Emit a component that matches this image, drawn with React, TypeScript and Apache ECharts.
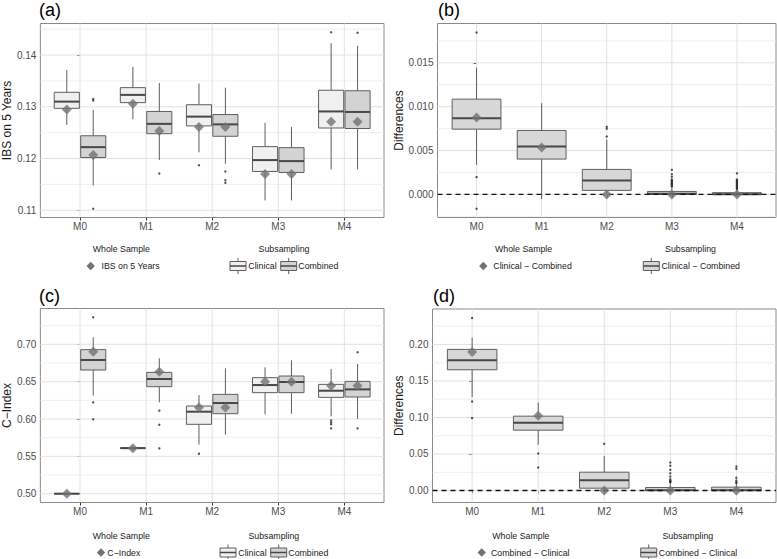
import React, { useEffect, useRef } from 'react';
import * as echarts from 'echarts';

const FONT = '"Liberation Sans", Arial, Helvetica, sans-serif';

const categories = ['M0', 'M1', 'M2', 'M3', 'M4'];

// Box statistics: [lower whisker, Q1, median, Q3, upper whisker]
// (a) IBS on 5 Years
const ibsClinical = [
  [0.1265, 0.1297, 0.131, 0.1328, 0.1371],
  [0.1276, 0.1308, 0.1323, 0.1337, 0.1377],
  [0.1212, 0.1263, 0.1281, 0.1304, 0.1345],
  [0.1119, 0.1175, 0.1197, 0.1223, 0.1269],
  [0.1179, 0.1259, 0.1291, 0.1332, 0.1423],
];
const ibsCombined = [
  [0.1148, 0.1202, 0.1222, 0.1244, 0.1294],
  [0.1197, 0.1248, 0.1267, 0.1291, 0.1346],
  [0.119, 0.1243, 0.1266, 0.1285, 0.1337],
  [0.1119, 0.1173, 0.1195, 0.1221, 0.1261],
  [0.1179, 0.1258, 0.129, 0.1331, 0.1418],
];
// outliers: [category index, value]
const ibsClinicalOutliers = [[2, 0.1187], [4, 0.1444]];
const ibsCombinedOutliers = [
  [0, 0.1315], [0, 0.1312], [0, 0.1103], [1, 0.1171],
  [2, 0.1175], [2, 0.1158], [2, 0.1153], [4, 0.1443],
];
const ibsWholeClinical = [0.1295, 0.1306, 0.1261, 0.117, 0.1271];
const ibsWholeCombined = [0.1207, 0.1253, 0.1261, 0.117, 0.1271];
const ibsTicks = [0.11, 0.12, 0.13, 0.14];

// (b) Differences Clinical − Combined (IBS)
const ibsDiff = [
  [0.00338, 0.00744, 0.00869, 0.01086, 0.01446],
  [-0.00053, 0.00403, 0.00547, 0.00729, 0.0104],
  [0, 0.00046, 0.00159, 0.00285, 0.00626],
  [0, 0, 0.00008, 0.00034, 0.0008],
  [0, 0, 0.00003, 0.0002, 0.0005],
];
const ibsDiffOutliers = [
  [0, 0.01845], [0, 0.00197], [0, -0.00163],
  [2, 0.00771], [2, 0.00748], [2, 0.00661],
  [3, 0.0028], [3, 0.0023], [3, 0.002], [3, 0.0017], [3, 0.0016], [3, 0.0015],
  [3, 0.0014], [3, 0.0013], [3, 0.0012], [3, 0.0011], [3, 0.001], [3, 0.0009],
  [4, 0.0024], [4, 0.0017], [4, 0.0016], [4, 0.0015], [4, 0.0014], [4, 0.0013],
  [4, 0.0012], [4, 0.0011], [4, 0.001], [4, 0.0009], [4, 0.0008], [4, 0.0007], [4, 0.0006],
];
const ibsDiffWhole = [0.00877, 0.00535, 0, 0, 0];
const ibsDiffTicks = [0, 0.005, 0.01, 0.015];

// (c) C-Index
const cClinical = [
  [0.5, 0.5, 0.5, 0.5, 0.5],
  [0.561, 0.561, 0.561, 0.561, 0.561],
  [0.5656, 0.5929, 0.6098, 0.6174, 0.6321],
  [0.6063, 0.6353, 0.6455, 0.6554, 0.6692],
  [0.6036, 0.629, 0.6379, 0.6464, 0.667],
];
const cCombined = [
  [0.6313, 0.6656, 0.679, 0.6929, 0.7094],
  [0.6223, 0.6433, 0.6536, 0.6625, 0.6813],
  [0.579, 0.6071, 0.6214, 0.633, 0.6679],
  [0.6071, 0.6353, 0.6496, 0.6576, 0.6786],
  [0.6, 0.6295, 0.6397, 0.6504, 0.6737],
];
const cClinicalOutliers = [[2, 0.5536], [4, 0.5982], [4, 0.5955], [4, 0.5929], [4, 0.5875]];
const cCombinedOutliers = [
  [0, 0.7362], [0, 0.6223], [0, 0.5996],
  [1, 0.6112], [1, 0.5924], [1, 0.5607],
  [4, 0.6893], [4, 0.5875],
];
const cWholeClinical = [0.5, 0.561, 0.6154, 0.65, 0.6446];
const cWholeCombined = [0.6902, 0.6634, 0.6154, 0.65, 0.6446];
const cTicks = [0.5, 0.55, 0.6, 0.65, 0.7];

// (d) Differences Combined − Clinical (C-Index)
const cDiff = [
  [0.128, 0.1653, 0.1785, 0.1932, 0.2091],
  [0.0626, 0.0826, 0.0927, 0.1018, 0.1205],
  [0, 0.0032, 0.0142, 0.0251, 0.0475],
  [0, 0, 0.0005, 0.0041, 0.0095],
  [0, 0, 0.0005, 0.0046, 0.01],
];
const cDiffOutliers = [
  [0, 0.2361], [0, 0.1219], [0, 0.0991],
  [1, 0.0507], [1, 0.0315],
  [2, 0.0639],
  [3, 0.0384], [3, 0.0338], [3, 0.0283], [3, 0.0237], [3, 0.0192], [3, 0.0155],
  [3, 0.0137], [3, 0.0128], [3, 0.0119], [3, 0.011],
  [4, 0.0329], [4, 0.0297], [4, 0.0174], [4, 0.0137], [4, 0.0114], [4, 0.0105],
];
const cDiffWhole = [0.1895, 0.1023, 0, 0, 0];
const cDiffTicks = [0, 0.05, 0.1, 0.15, 0.2];

const CLIN_FILL = '#f0f0f0';
const COMB_FILL = '#d3d3d3';
const DIFF_FILL = '#d7d7d7';
const BOX_STROKE = '#5e5e5e';
const MEAN_COLOR = '#727272';

const panels = [
  {
    label: '(a)', labelX: 39, labelY: 10,
    grid: { left: 39, top: 23.5, width: 345, height: 194 },
    yMin: 0.1086, yMax: 0.1461, ticks: ibsTicks, dec: 2,
    name: 'IBS on 5 Years', nameGap: 26,
    boxes: [
      { stats: ibsClinical, outliers: ibsClinicalOutliers, offset: -0.2, width: 0.38, fill: CLIN_FILL },
      { stats: ibsCombined, outliers: ibsCombinedOutliers, offset: 0.2, width: 0.38, fill: COMB_FILL },
    ],
    means: [
      { values: ibsWholeClinical, offset: -0.2 },
      { values: ibsWholeCombined, offset: 0.2 },
    ],
    zero: false,
  },
  {
    label: '(b)', labelX: 438, labelY: 10,
    grid: { left: 437.5, top: 23.5, width: 338.5, height: 194 },
    yMin: -0.00263, yMax: 0.01948, ticks: ibsDiffTicks, dec: 3,
    name: 'Differences', nameGap: 32,
    boxes: [{ stats: ibsDiff, outliers: ibsDiffOutliers, offset: 0, width: 0.75, fill: DIFF_FILL }],
    means: [{ values: ibsDiffWhole, offset: 0 }],
    zero: true,
  },
  {
    label: '(c)', labelX: 39, labelY: 296,
    grid: { left: 39, top: 308.5, width: 345, height: 194 },
    yMin: 0.4882, yMax: 0.748, ticks: cTicks, dec: 2,
    name: 'C\u2212Index', nameGap: 26,
    boxes: [
      { stats: cClinical, outliers: cClinicalOutliers, offset: -0.2, width: 0.38, fill: CLIN_FILL },
      { stats: cCombined, outliers: cCombinedOutliers, offset: 0.2, width: 0.38, fill: COMB_FILL },
    ],
    means: [
      { values: cWholeClinical, offset: -0.2 },
      { values: cWholeCombined, offset: 0.2 },
    ],
    zero: false,
  },
  {
    label: '(d)', labelX: 433, labelY: 296,
    grid: { left: 432.5, top: 309, width: 343.5, height: 193.5 },
    yMin: -0.0164, yMax: 0.2485, ticks: cDiffTicks, dec: 2,
    name: 'Differences', nameGap: 27,
    boxes: [{ stats: cDiff, outliers: cDiffOutliers, offset: 0, width: 0.75, fill: DIFF_FILL }],
    means: [{ values: cDiffWhole, offset: 0 }],
    zero: true,
  },
];

const legends = [
  { dy: 0, titleX: 92.7, diamondX: 90.7, text: 'IBS on 5 Years', textX: 101.5, subCenter: 284,
    keys: [{ x: 230, fill: CLIN_FILL, label: 'Clinical', tx: 248.3 }, { x: 280.7, fill: COMB_FILL, label: 'Combined', tx: 298.3 }] },
  { dy: 0, titleX: 495, diamondX: 483.3, text: 'Clinical \u2212 Combined', textX: 493.3, subCenter: 690.5,
    keys: [{ x: 643.3, fill: DIFF_FILL, label: 'Clinical \u2212 Combined', tx: 661.5 }] },
  { dy: 286.5, titleX: 92.7, diamondX: 101, text: 'C\u2212Index', textX: 107.3, subCenter: 273.8,
    keys: [{ x: 220, fill: CLIN_FILL, label: 'Clinical', tx: 238.3 }, { x: 270.7, fill: COMB_FILL, label: 'Combined', tx: 288.3 }] },
  { dy: 286.5, titleX: 492.3, diamondX: 481.7, text: 'Combined \u2212 Clinical', textX: 491, subCenter: 687.8,
    keys: [{ x: 640.7, fill: DIFF_FILL, label: 'Combined \u2212 Clinical', tx: 658.8 }] },
];

function boxRenderer(widthUnits: number, fill: string) {
  return (params: any, api: any) => {
    const x = api.value(0);
    const lo = api.coord([x, api.value(1)]);
    const q1 = api.coord([x, api.value(2)]);
    const md = api.coord([x, api.value(3)]);
    const q3 = api.coord([x, api.value(4)]);
    const hi = api.coord([x, api.value(5)]);
    const hw = api.size([widthUnits, 0])[0] / 2;
    return {
      type: 'group',
      children: [
        { type: 'line', shape: { x1: hi[0], y1: hi[1], x2: q3[0], y2: q3[1] }, style: { stroke: BOX_STROKE, lineWidth: 1 } },
        { type: 'line', shape: { x1: q1[0], y1: q1[1], x2: lo[0], y2: lo[1] }, style: { stroke: BOX_STROKE, lineWidth: 1 } },
        {
          type: 'rect',
          shape: { x: q3[0] - hw, y: q3[1], width: 2 * hw, height: Math.max(q1[1] - q3[1], 0) },
          style: { fill, stroke: BOX_STROKE, lineWidth: 1 },
        },
        { type: 'line', shape: { x1: md[0] - hw, y1: md[1], x2: md[0] + hw, y2: md[1] }, style: { stroke: '#474747', lineWidth: 2 } },
      ],
    };
  };
}

function buildOption() {
  const grid: any[] = [];
  const xAxis: any[] = [];
  const yAxis: any[] = [];
  const series: any[] = [];
  const graphic: any[] = [];

  panels.forEach((p, i) => {
    grid.push({ ...p.grid, show: true, borderColor: '#8a8a8a', borderWidth: 1, containLabel: false });
    xAxis.push({
      type: 'value', gridIndex: i, min: -0.6, max: 4.6,
      axisLine: { show: false },
      splitLine: { show: false },
      axisTick: { show: true, customValues: [0, 1, 2, 3, 4], length: 3, lineStyle: { color: '#333', width: 1 } },
      axisLabel: {
        customValues: [0, 1, 2, 3, 4],
        formatter: (v: number) => categories[Math.round(v)] ?? '',
        color: '#4d4d4d', fontSize: 10, fontFamily: FONT, margin: 4,
      },
    });
    yAxis.push({
      type: 'value', gridIndex: i, min: p.yMin, max: p.yMax,
      axisLine: { show: false },
      splitLine: { show: false },
      axisTick: { show: true, customValues: p.ticks, length: 3, lineStyle: { color: '#333', width: 1 } },
      axisLabel: {
        customValues: p.ticks,
        formatter: (v: number) => v.toFixed(p.dec),
        color: '#4d4d4d', fontSize: 10, fontFamily: FONT, margin: 4,
      },
      name: p.name, nameLocation: 'middle', nameRotate: 90, nameGap: p.nameGap,
      nameTextStyle: { fontSize: 12, color: '#1a1a1a', fontFamily: FONT },
    });

    // grid lines: kind 0 major horizontal, 1 minor horizontal, 2 vertical
    const step = p.ticks[1] - p.ticks[0];
    const minors: number[] = [];
    for (let k = -1; k < p.ticks.length; k++) {
      const v = p.ticks[0] + (k + 0.5) * step;
      if (v > p.yMin && v < p.yMax) minors.push(v);
    }
    const gridData = [
      ...p.ticks.map((v) => [0, v]),
      ...minors.map((v) => [1, v]),
      ...[0, 1, 2, 3, 4].map((v) => [2, v]),
    ];
    series.push({
      type: 'custom', xAxisIndex: i, yAxisIndex: i, silent: true, z: 1,
      data: gridData,
      renderItem: (params: any, api: any) => {
        const kind = api.value(0);
        const v = api.value(1);
        let a, b;
        if (kind === 2) { a = api.coord([v, p.yMin]); b = api.coord([v, p.yMax]); }
        else { a = api.coord([-0.6, v]); b = api.coord([4.6, v]); }
        return {
          type: 'line',
          shape: { x1: a[0], y1: a[1], x2: b[0], y2: b[1] },
          style: { stroke: kind === 1 ? '#ececec' : '#e2e2e2', lineWidth: kind === 1 ? 0.8 : 1 },
        };
      },
    });

    p.boxes.forEach((bx) => {
      series.push({
        type: 'custom', xAxisIndex: i, yAxisIndex: i, silent: true, z: 2,
        encode: { x: 0, y: [1, 2, 3, 4, 5] },
        data: bx.stats.map((s, c) => [c + bx.offset, ...s]),
        renderItem: boxRenderer(bx.width, bx.fill),
      });
      series.push({
        type: 'scatter', xAxisIndex: i, yAxisIndex: i, silent: true, z: 3,
        symbol: 'circle', symbolSize: 2.4,
        itemStyle: { color: '#2b2b2b' },
        data: bx.outliers.map(([c, v]) => [c + bx.offset, v]),
      });
    });

    if (p.zero) {
      series.push({
        type: 'custom', xAxisIndex: i, yAxisIndex: i, silent: true, z: 4,
        data: [[0, 0]],
        renderItem: (params: any, api: any) => {
          const a = api.coord([-0.6, 0]);
          const b = api.coord([4.6, 0]);
          return {
            type: 'line',
            shape: { x1: a[0], y1: a[1], x2: b[0], y2: b[1] },
            style: { stroke: '#111', lineWidth: 1.3, lineDash: [5, 4] },
          };
        },
      });
    }

    p.means.forEach((m) => {
      series.push({
        type: 'scatter', xAxisIndex: i, yAxisIndex: i, silent: true, z: 5,
        symbol: 'diamond', symbolSize: [10, 10],
        itemStyle: { color: MEAN_COLOR },
        data: m.values.map((v, c) => [c + m.offset, v]),
      });
    });

    graphic.push({
      type: 'text', x: p.labelX, y: p.labelY,
      style: { text: p.label, font: `18px ${FONT}`, fill: '#000', verticalAlign: 'middle', align: 'left' },
    });
  });

  legends.forEach((lg) => {
    const ty = 249.3 + lg.dy;
    const iy = 266 + lg.dy;
    const textStyle = (text: string, x: number, y: number, align = 'left') => ({
      type: 'text', x, y,
      style: { text, font: `8.8px ${FONT}`, fill: '#1a1a1a', verticalAlign: 'middle', align },
    });
    graphic.push(textStyle('Whole Sample', lg.titleX, ty));
    graphic.push({
      type: 'polygon',
      shape: { points: [[lg.diamondX, iy - 4.2], [lg.diamondX + 4.2, iy], [lg.diamondX, iy + 4.2], [lg.diamondX - 4.2, iy]] },
      style: { fill: MEAN_COLOR },
    });
    graphic.push(textStyle(lg.text, lg.textX, iy));
    graphic.push(textStyle('Subsampling', lg.subCenter, ty, 'center'));
    lg.keys.forEach((k) => {
      const cx = k.x + 8;
      graphic.push({ type: 'line', shape: { x1: cx, y1: iy - 8, x2: cx, y2: iy + 8 }, style: { stroke: BOX_STROKE, lineWidth: 1 } });
      graphic.push({ type: 'rect', shape: { x: k.x, y: iy - 4.5, width: 16, height: 9 }, style: { fill: k.fill, stroke: BOX_STROKE, lineWidth: 1 } });
      graphic.push({ type: 'line', shape: { x1: k.x, y1: iy, x2: k.x + 16, y2: iy }, style: { stroke: '#474747', lineWidth: 1.5 } });
      graphic.push(textStyle(k.label, k.tx, iy));
    });
  });

  return {
    animation: false,
    backgroundColor: '#ffffff',
    textStyle: { fontFamily: FONT },
    grid, xAxis, yAxis, series, graphic,
  };
}

export default function App() {
  const ref = useRef<HTMLDivElement>(null);
  useEffect(() => {
    if (!ref.current) return;
    const chart = echarts.init(ref.current, undefined, { renderer: 'svg' });
    chart.setOption(buildOption() as any);
    return () => chart.dispose();
  }, []);
  return <div ref={ref} style={{ position: 'fixed', left: 0, top: 0, width: 777, height: 559 }} />;
}
